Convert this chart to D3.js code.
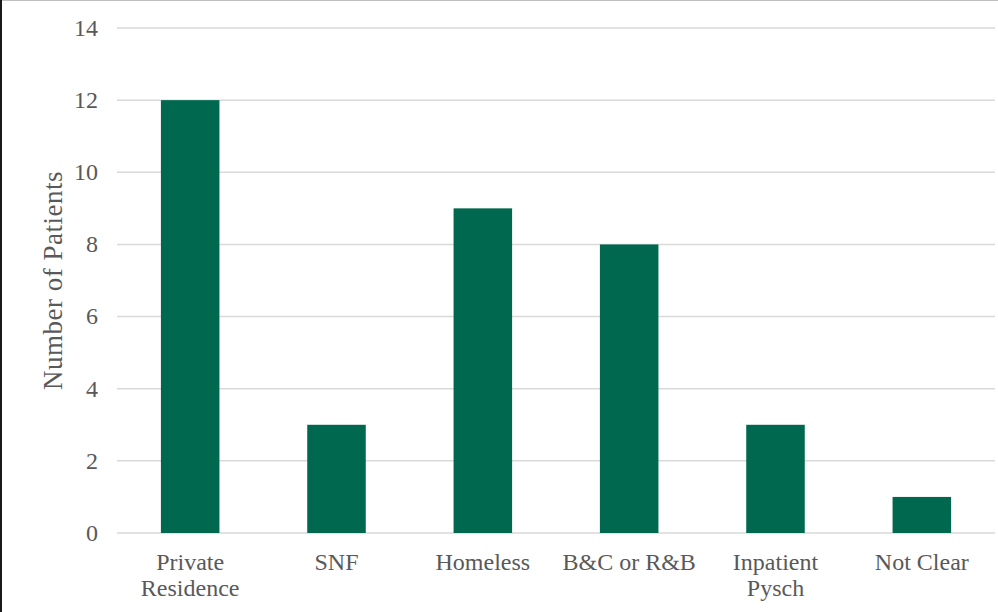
<!DOCTYPE html>
<html lang="en">
<head>
    <meta charset="UTF-8">
    <title>Number of Patients</title>
    <script src="https://d3js.org/d3.v7.min.js"></script>
    <style>
        body { margin: 0; background: #fff; }
        text { font-family: "Liberation Serif", "Times New Roman", serif; fill: #595959; }
    </style>
</head>
<body>
    <div id="grafico"></div>
    <script>
        const ancho = 998;
        const alto = 612;

        // Datos
        const categorias = ["Private Residence", "SNF", "Homeless", "B&C or R&B", "Inpatient Pysch", "Not Clear"];
        const etiquetas = [["Private", "Residence"], ["SNF"], ["Homeless"], ["B&C or R&B"], ["Inpatient", "Pysch"], ["Not Clear"]];
        const valores = [12, 3, 9, 8, 3, 1];
        const ticksY = [0, 2, 4, 6, 8, 10, 12, 14];

        const margen = { izq: 117, der: 3, arriba: 28, abajo: 79 };

        const svg = d3.select("#grafico")
            .append("svg")
            .attr("width", ancho)
            .attr("height", alto);

        // marco
        svg.append("line")
            .attr("x1", 0).attr("x2", ancho).attr("y1", 0.5).attr("y2", 0.5)
            .attr("stroke", "#bfbfbf").attr("stroke-width", 1);
        svg.append("line")
            .attr("x1", 1).attr("x2", 1).attr("y1", 0).attr("y2", alto)
            .attr("stroke", "#1a1a1a").attr("stroke-width", 2);

        const escalaX = d3.scaleBand()
            .domain(categorias)
            .range([margen.izq, ancho - margen.der])
            .paddingInner(0.6)
            .paddingOuter(0.3);

        const escalaY = d3.scaleLinear()
            .domain([0, 14])
            .range([alto - margen.abajo, margen.arriba]);

        // lineas de cuadricula
        svg.append("g")
            .selectAll("line")
            .data(ticksY)
            .join("line")
            .attr("x1", margen.izq)
            .attr("x2", ancho - margen.der)
            .attr("y1", d => escalaY(d))
            .attr("y2", d => escalaY(d))
            .attr("stroke", "#d9d9d9")
            .attr("stroke-width", 1.5);

        // etiquetas del eje Y
        svg.append("g")
            .selectAll("text")
            .data(ticksY)
            .join("text")
            .attr("x", 98)
            .attr("y", d => escalaY(d))
            .attr("dy", "0.33em")
            .attr("text-anchor", "end")
            .attr("font-size", 24)
            .text(d => d);

        // barras
        svg.append("g")
            .selectAll("rect")
            .data(valores)
            .join("rect")
            .attr("x", (d, i) => escalaX(categorias[i]))
            .attr("y", d => escalaY(d))
            .attr("width", escalaX.bandwidth())
            .attr("height", d => escalaY(0) - escalaY(d))
            .attr("fill", "#00684f");

        // etiquetas del eje X
        const grupoX = svg.append("g");
        etiquetas.forEach((lineas, i) => {
            const cx = escalaX(categorias[i]) + escalaX.bandwidth() / 2;
            const t = grupoX.append("text")
                .attr("text-anchor", "middle")
                .attr("font-size", 24);
            lineas.forEach((l, j) => {
                t.append("tspan")
                    .attr("x", cx)
                    .attr("y", escalaY(0) + 37 + j * 26)
                    .text(l);
            });
        });

        // titulo del eje Y
        const centroY = (escalaY(0) + escalaY(14)) / 2;
        svg.append("text")
            .attr("transform", `translate(62, ${centroY}) rotate(-90)`)
            .attr("text-anchor", "middle")
            .attr("font-size", 27)
            .attr("letter-spacing", 0.5)
            .text("Number of Patients");
    </script>
</body>
</html>
